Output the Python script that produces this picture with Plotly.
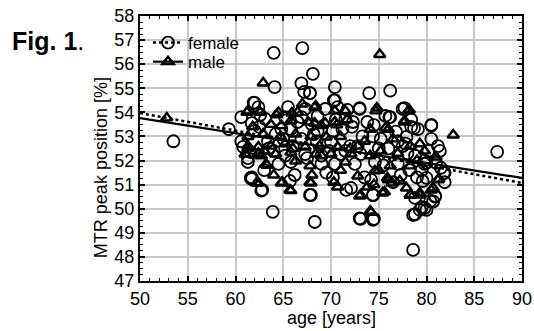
import plotly.graph_objects as go

# ---- data ----
female_age = [53.5, 59.3, 64.1, 64.0, 67.0, 68.1, 70.4, 66.9, 67.2, 67.8, 70.4, 61.9,
              74.0, 76.2, 87.4, 80.5, 77.7, 78.4, 78.7, 76.1, 74.5, 73.0, 71.7, 70.3, 67.8,
              78.6, 68.3, 73.1, 74.5, 63.9, 78.8, 79.5, 80.0, 80.7, 80.9,
              67.8, 71.6, 74.4, 80.0, 81.8, 81.9,
              61.6, 62.7, 67.9, 65.7, 61.7, 62.8,
              62.0, 62.6, 61.7, 60.8, 61.3, 61.7,
              62.4, 65.5, 67.3, 69.4, 70.7, 60.6, 63.1, 65.2, 66.9, 68.6, 71.5, 62.0, 65.8,
              68.6, 70.2, 60.6, 63.4, 66.9, 70.0, 61.6, 65.2, 67.3, 69.0, 71.0, 61.3, 64.5,
              65.8, 69.0, 70.4,
              73.0, 77.5, 75.7, 76.2, 78.4, 79.1, 80.5, 72.3, 73.3, 74.4, 77.0, 77.9, 80.2,
              81.4, 72.5, 74.6, 77.0, 79.8, 78.8, 73.1,
              73.0, 74.4, 78.6, 79.3, 79.8, 80.4, 80.9, 74.4, 78.8, 79.6, 81.9, 77.3, 72.1,
              63.5, 64.8, 66.0, 68.0, 69.8, 71.2, 72.8, 75.0, 76.8, 78.0, 79.5, 81.0,
              62.5, 64.0, 66.5, 68.5, 70.5, 72.0, 73.8, 75.5, 77.5, 79.0, 80.5, 81.5,
              63.0, 65.0, 67.5, 69.5, 71.5, 73.5, 75.2, 76.5, 78.2, 80.0,
              64.2, 66.2, 68.2, 70.2, 72.2, 74.2, 76.0, 77.8, 79.8, 81.2]
female_mtr = [52.8, 53.3, 55.05, 56.47, 56.67, 55.6, 55.05, 55.2, 54.85, 54.8, 54.5, 54.4,
              54.8, 54.9, 52.36, 53.48, 54.18, 53.7, 53.35, 53.8, 53.47, 54.18, 54.1, 54.5, 54.8,
              48.29, 49.45, 49.58, 49.58, 49.87, 49.77, 50.07, 49.95, 50.3, 50.5,
              50.57, 50.78, 50.57, 51.28, 51.48, 51.1,
              51.28, 50.75, 50.57, 51.15, 51.23, 50.78,
              54.39, 53.9, 53.55, 52.57, 52.1, 51.3,
              54.22, 54.22, 54.14, 54.14, 54.22, 53.8, 53.73, 53.8, 53.8, 53.85, 53.73, 53.23, 53.3,
              53.23, 53.23, 52.8, 52.8, 52.9, 52.77, 52.35, 52.2, 52.27, 52.2, 52.27, 51.94, 51.86,
              51.94, 51.86, 51.86,
              54.14, 54.14, 53.85, 53.8, 53.4, 53.3, 53.45, 53.6, 53.0, 53.0, 52.8, 52.98, 52.4,
              52.4, 51.86, 51.94, 51.86, 51.86, 52.2, 52.27,
              49.6, 49.54, 49.74, 49.95, 50.03, 50.32, 50.53, 50.57, 50.45, 51.15, 51.49, 51.4, 50.86,
              52.5, 53.3, 52.6, 53.5, 52.4, 53.3, 52.6, 52.5, 53.2, 52.3, 51.6, 51.9,
              53.4, 52.4, 53.6, 52.8, 53.7, 52.6, 53.6, 51.8, 52.6, 51.3, 52.9, 51.7,
              51.6, 52.9, 52.1, 51.5, 52.4, 51.3, 52.9, 51.1, 51.6, 51.9,
              53.1, 51.4, 53.1, 51.3, 53.4, 51.2, 52.5, 52.7, 52.0, 52.6]

male_age = [52.8, 62.9, 75.1, 82.8, 74.8, 78.2, 68.4, 67.0, 70.6, 71.7, 69.4, 68.3, 75.7,
            77.7, 65.9, 64.3,
            73.0, 75.6, 78.3, 79.3, 80.7, 81.3, 64.9, 65.7, 67.8, 70.3, 70.7, 73.8, 74.5,
            75.9, 76.4, 74.2,
            62.4, 64.8, 65.8, 67.9, 61.2, 61.3, 62.2, 62.4, 63.3,
            61.3, 62.6, 64.5, 66.5, 68.3, 70.4, 71.5, 61.8, 63.7, 64.8, 65.8, 67.6, 69.0, 70.4,
            61.3, 62.9, 64.7, 66.3, 67.9, 69.5, 71.0, 61.3, 62.4, 63.7, 65.2, 67.3, 68.8, 70.7,
            61.0, 62.7, 64.2, 65.8, 68.4, 70.0, 63.2, 66.3, 67.8, 71.5,
            74.7, 78.1, 77.7, 74.1, 76.0, 72.8, 75.2, 78.3, 79.3, 79.8, 81.0, 74.1, 72.1,
            76.2, 78.3,
            72.8, 74.6, 76.0, 73.1, 75.4, 77.9, 78.3, 79.3, 80.5, 81.2, 74.1, 77.2,
            63.0, 66.0, 69.0, 72.0, 73.5, 76.5, 79.0, 64.0, 68.0, 71.0, 75.0, 77.0]
male_mtr = [53.77, 55.22, 56.4, 53.06, 54.18, 54.1, 54.27, 54.35, 53.48, 53.7, 53.55, 53.55, 53.35,
            53.6, 53.97, 53.9,
            50.53, 50.7, 50.57, 50.57, 50.86, 51.23, 51.1, 50.78, 51.1, 51.1, 50.9, 50.9, 51.0,
            51.28, 51.07, 49.85,
            51.07, 51.07, 50.75, 51.07, 54.0, 52.5, 51.07, 52.3, 51.8,
            54.06, 54.0, 54.0, 54.0, 54.2, 54.06, 54.06, 53.4, 53.5, 53.45, 53.65, 53.6, 53.45, 53.6,
            53.0, 53.1, 53.0, 53.1, 53.0, 52.98, 53.0, 52.6, 52.56, 52.6, 52.7, 52.56, 52.6, 52.56,
            52.27, 52.2, 52.27, 52.35, 52.27, 52.27, 51.85, 51.98, 51.78, 51.94,
            54.06, 54.06, 53.65, 53.3, 53.3, 52.6, 52.4, 52.6, 52.7, 52.4, 52.15, 52.2, 52.27,
            51.78, 51.78,
            51.36, 51.57, 51.2, 50.57, 50.65, 50.86, 50.57, 50.65, 50.78, 51.2, 49.9, 51.15,
            52.4, 52.5, 52.2, 52.5, 52.8, 52.9, 52.0, 51.4, 51.4, 51.6, 51.6, 52.3]

fit_age = [50, 90]
female_fit = [53.97, 51.07]
male_fit = [53.76, 51.28]

x_ticks = [50, 55, 60, 65, 70, 75, 80, 85, 90]
y_ticks = [47, 48, 49, 50, 51, 52, 53, 54, 55, 56, 57, 58]

FONT = "Liberation Sans, Arial, sans-serif"

fig = go.Figure()

fig.add_trace(go.Scatter(x=female_age, y=female_mtr, mode="markers", showlegend=False,
                         marker=dict(symbol="circle-open", size=12, color="black",
                                     line=dict(width=1.8, color="black"))))
fig.add_trace(go.Scatter(x=male_age, y=male_mtr, mode="markers", showlegend=False,
                         marker=dict(symbol="triangle-up-open", size=10, color="black",
                                     line=dict(width=2.4, color="black"))))
fig.add_trace(go.Scatter(x=fit_age, y=female_fit, mode="lines", showlegend=False,
                         line=dict(color="black", width=2.5, dash="dot")))
fig.add_trace(go.Scatter(x=fit_age, y=male_fit, mode="lines", showlegend=False,
                         line=dict(color="black", width=2.2)))

# legend entries (two separate legends for exact placement)
fig.add_trace(go.Scatter(x=[None], y=[None], mode="lines+markers", name="female",
                         legend="legend",
                         line=dict(color="black", width=2.5, dash="dot"),
                         marker=dict(symbol="circle-open", size=12, color="black",
                                     line=dict(width=1.8))))
fig.add_trace(go.Scatter(x=[None], y=[None], mode="lines+markers", name="male",
                         legend="legend2",
                         line=dict(color="black", width=2.2),
                         marker=dict(symbol="triangle-up-open", size=10, color="black",
                                     line=dict(width=2.4))))

axis_common = dict(
    showgrid=True, gridcolor="#c8c8c8", gridwidth=1.8,
    showline=True, linecolor="black", linewidth=2, mirror="ticks",
    ticks="inside", ticklen=5, tickwidth=1.5, tickcolor="black",
    tickfont=dict(family=FONT, size=18, color="black"),
    zeroline=False, automargin=False, ticklabeloverflow="allow",
)

fig.update_xaxes(range=[50, 90], tickvals=x_ticks,
                 minor=dict(dtick=1, ticks="inside", ticklen=3, tickwidth=1.2,
                            tickcolor="black", showgrid=False),
                 **axis_common)
fig.update_yaxes(range=[47, 58], tickvals=y_ticks,
                 minor=dict(dtick=0.25, ticks="inside", ticklen=3, tickwidth=1.2,
                            tickcolor="black", showgrid=False),
                 **axis_common)

# axis titles
fig.add_annotation(text="age [years]", xref="paper", yref="paper", x=0.5, y=-0.14,
                   xanchor="center", yanchor="middle", showarrow=False,
                   font=dict(family=FONT, size=18, color="black"))
fig.add_annotation(text="MTR peak position [%]", xref="paper", yref="paper", x=-0.102, y=0.426,
                   xanchor="center", yanchor="middle", showarrow=False, textangle=-90,
                   font=dict(family=FONT, size=18, color="black"))

fig.add_annotation(text="<b>Fig. 1</b>.", xref="paper", yref="paper",
                   x=-0.34, y=0.905, xanchor="left", yanchor="middle", showarrow=False,
                   font=dict(family=FONT, size=25, color="black"))

legend_style = dict(xanchor="left", yanchor="middle", bgcolor="rgba(0,0,0,0)", borderwidth=0,
                    font=dict(family=FONT, size=17, color="black"), itemwidth=30)

fig.update_layout(
    width=534, height=331,
    margin=dict(l=140, r=12, t=16, b=50),
    paper_bgcolor="white", plot_bgcolor="white",
    showlegend=True,
    legend=dict(x=0.021, y=0.898, **legend_style),
    legend2=dict(x=0.021, y=0.826, **legend_style),
)

# remove the default page margin so the figure fills the window exactly; no mode bar
fig.write_html("out.html",
               config={"displayModeBar": False},
               post_script="document.body.style.margin='0';document.body.style.overflow='hidden';")
